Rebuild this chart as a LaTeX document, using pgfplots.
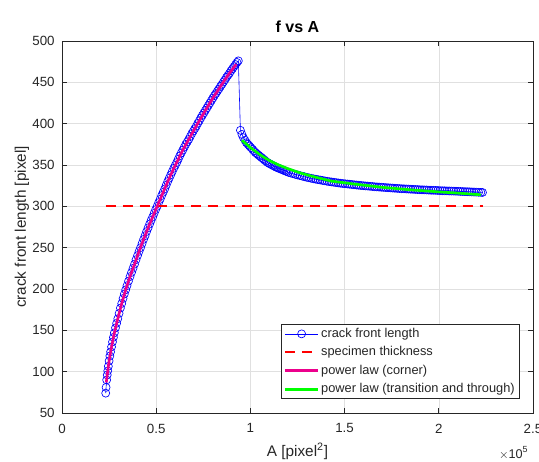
\documentclass[border=0pt]{standalone}
\usepackage{pgfplots}
\usepackage{pgfplotstable}
\pgfplotsset{compat=1.18}
\usepackage{fontspec}
\setmainfont{Liberation Sans}

\definecolor{axisgray}{rgb}{0.15,0.15,0.15}
\definecolor{gridgray}{rgb}{0.88,0.88,0.88}

% crack front length f versus crack area A (A in units of 1e5 pixel^2)
\pgfplotstableread{
A f
0.232 74
0.234 81
0.237 90
0.240 96
0.243 101
0.246 106.5
0.250 113
0.254 119
0.258 124
0.263 130
0.268 136
0.273 141.5
0.278 147
0.284 153
0.290 158.5
0.296 164
0.303 170.5
0.310 177
0.317 182.5
0.324 188.5
0.331 194
0.338 199
0.345 204
0.353 209.5
0.361 215
0.369 220
0.377 225
0.385 230
0.393 235.5
0.401 240.5
0.409 245.5
0.417 250
0.425 255
0.433 260
0.441 264.5
0.449 269.5
0.457 274
0.465 278.5
0.473 283
0.481 287
0.489 291.5
0.497 296
0.505 300
0.513 304.5
0.521 308.5
0.529 313
0.537 317
0.545 321
0.553 325.5
0.561 330
0.569 334
0.577 338
0.585 342
0.593 346
0.601 349.5
0.609 353
0.617 357
0.625 361
0.633 364.5
0.641 368
0.649 371.5
0.657 375
0.665 378
0.673 381
0.681 384.5
0.689 388
0.697 391
0.705 394
0.713 397
0.721 400.5
0.729 403.5
0.737 407
0.745 410
0.753 413
0.761 416
0.769 419
0.777 422
0.785 425
0.793 428
0.801 431
0.809 434
0.817 436.5
0.825 439.5
0.833 442
0.841 445
0.849 447.5
0.857 450.5
0.865 453
0.873 456
0.881 458.5
0.889 461
0.897 464
0.905 466.5
0.913 469
0.921 471.5
0.929 474
0.936 476
0.947 392
0.955 387
0.963 383
0.971 380
0.979 377
0.987 375
0.995 373
1.003 371
1.011 369
1.019 367
1.027 365
1.035 363.5
1.043 362
1.051 360.5
1.059 359
1.067 357.5
1.075 356
1.083 354.5
1.091 353
1.099 352
1.107 351
1.115 350
1.123 349
1.131 348
1.139 347
1.147 346.5
1.155 345.5
1.163 345
1.171 344
1.179 343.5
1.187 342.5
1.195 342
1.203 341
1.215 340.2
1.227 339.4
1.239 338.6
1.251 337.9
1.263 337.2
1.275 336.5
1.287 335.8
1.299 335.1
1.311 334.5
1.323 333.9
1.335 333.3
1.347 332.8
1.359 332.3
1.371 331.8
1.383 331.3
1.395 330.8
1.407 330.3
1.419 329.9
1.431 329.5
1.443 329.1
1.455 328.7
1.467 328.3
1.479 327.9
1.491 327.6
1.503 327.3
1.515 327.0
1.527 326.7
1.539 326.4
1.551 326.1
1.563 325.8
1.575 325.5
1.587 325.2
1.599 325.0
1.611 324.7
1.623 324.5
1.635 324.2
1.647 324.0
1.659 323.7
1.671 323.5
1.683 323.3
1.695 323.1
1.707 322.9
1.719 322.7
1.731 322.5
1.743 322.3
1.755 322.1
1.767 321.9
1.779 321.7
1.791 321.5
1.803 321.3
1.815 321.2
1.827 321.0
1.839 320.9
1.851 320.7
1.863 320.6
1.875 320.4
1.887 320.3
1.899 320.1
1.911 320.0
1.923 319.9
1.935 319.8
1.947 319.6
1.959 319.5
1.971 319.4
1.983 319.3
1.995 319.2
2.007 319.0
2.019 318.9
2.031 318.8
2.043 318.7
2.055 318.6
2.067 318.5
2.079 318.4
2.091 318.3
2.103 318.2
2.115 318.0
2.127 317.9
2.139 317.8
2.151 317.7
2.163 317.6
2.175 317.4
2.187 317.3
2.199 317.2
2.211 317.0
2.223 316.9
2.232 316.8
}\crackdata

% power-law fit, corner crack stage
\pgfplotstableread{
A f
0.235 87
0.240 96
0.250 113
0.263 130
0.278 147
0.296 164
0.317 182.5
0.338 199
0.361 215
0.385 230
0.409 245.5
0.433 260
0.457 274
0.481 287
0.505 300
0.537 317
0.569 334
0.601 349.5
0.641 368
0.681 384.5
0.721 400.5
0.761 416
0.801 431
0.841 445
0.881 458.5
0.925 472
}\cornerfit

% power-law fit, transition and through-crack stage
\pgfplotstableread{
A f
0.955 380
0.980 375
1.000 371
1.030 366
1.060 361
1.100 355.5
1.150 350
1.200 345.5
1.270 340
1.350 335
1.430 330.5
1.550 327
1.700 323
1.850 320
2.000 317.5
2.100 316
2.223 314
}\throughfit

\begin{document}
\begin{tikzpicture}
\path[use as bounding box] (-46.5pt,-36pt) rectangle (357.75pt,309.75pt);
\begin{axis}[
  at={(0,0)}, anchor=south west,
  scale only axis, width=353.25pt, height=279pt,
  xmin=0, xmax=2.5, ymin=50, ymax=500,
  xtick={0,0.5,1,1.5,2,2.5},
  ytick={50,100,150,200,250,300,350,400,450,500},
  xticklabels={0,0.5,1,1.5,2,2.5},
  clip marker paths=true,
  grid=major,
  major grid style={gridgray, line width=0.4pt},
  axis line style={axisgray, line width=0.6pt},
  tick style={axisgray, line width=0.5pt},
  tick align=inside,
  major tick length=3.75pt,
  font=\fontsize{10}{12}\selectfont,
  tick label style={text=axisgray},
  /pgf/number format/assume math mode=true,
  xticklabel style={yshift=-4.5pt},
  yticklabel style={xshift=-2pt},
  every axis y label/.style={at={(axis description cs:0,0.5)}, xshift=-30pt, rotate=90, anchor=center, font=\fontsize{11.5}{13}\selectfont, text=axisgray},
  every axis x label/.style={at={(axis description cs:0.5,0)}, yshift=-32.5pt, anchor=base, font=\fontsize{11.5}{13}\selectfont, text=axisgray},
  ylabel={crack front length [pixel]},
  xlabel={A [pixel\textsuperscript{2}]},
  legend cell align=left,
  legend style={
    at={(rel axis cs:0.971,0.038)}, anchor=south east,
    draw=axisgray, line width=0.5pt, fill=white,
    font=\fontsize{9.6}{11}\selectfont,
    inner xsep=2pt, inner ysep=1.5pt, row sep=3pt,
    nodes={inner sep=1.2pt, text=axisgray}
  },
  legend image code/.code={%
    \draw[mark repeat=2, mark phase=2] plot coordinates {(0pt,0pt) (12.5pt,0pt) (25pt,0pt)};
  },
]
\addplot[blue, line width=0.45pt, mark=o, mark size=3pt,
  mark options={line width=0.5pt, solid}] table[x=A, y=f] {\crackdata};
\addlegendentry{crack front length}
\addplot[red, line width=1.6pt, dash pattern=on 7.5pt off 5.25pt] coordinates {(0.232,300) (2.232,300)};
\addlegendentry{specimen thickness}
\addplot[magenta, line width=2pt] table[x=A, y=f] {\cornerfit};
\addlegendentry{power law (corner)}
\addplot[green, line width=2pt] table[x=A, y=f] {\throughfit};
\addlegendentry{power law (transition and through)}
\end{axis}
% title and axis multiplier, placed relative to the axis frame
\node[anchor=base, font=\bfseries\fontsize{12}{14}\selectfont, text=black] at (176.625pt,285pt) {f vs A};
\node[anchor=base east, font=\fontsize{9.5}{11}\selectfont, text=axisgray] at (353.25pt,-33.75pt) {$\times$10\textsuperscript{5}};
\end{tikzpicture}
\end{document}
